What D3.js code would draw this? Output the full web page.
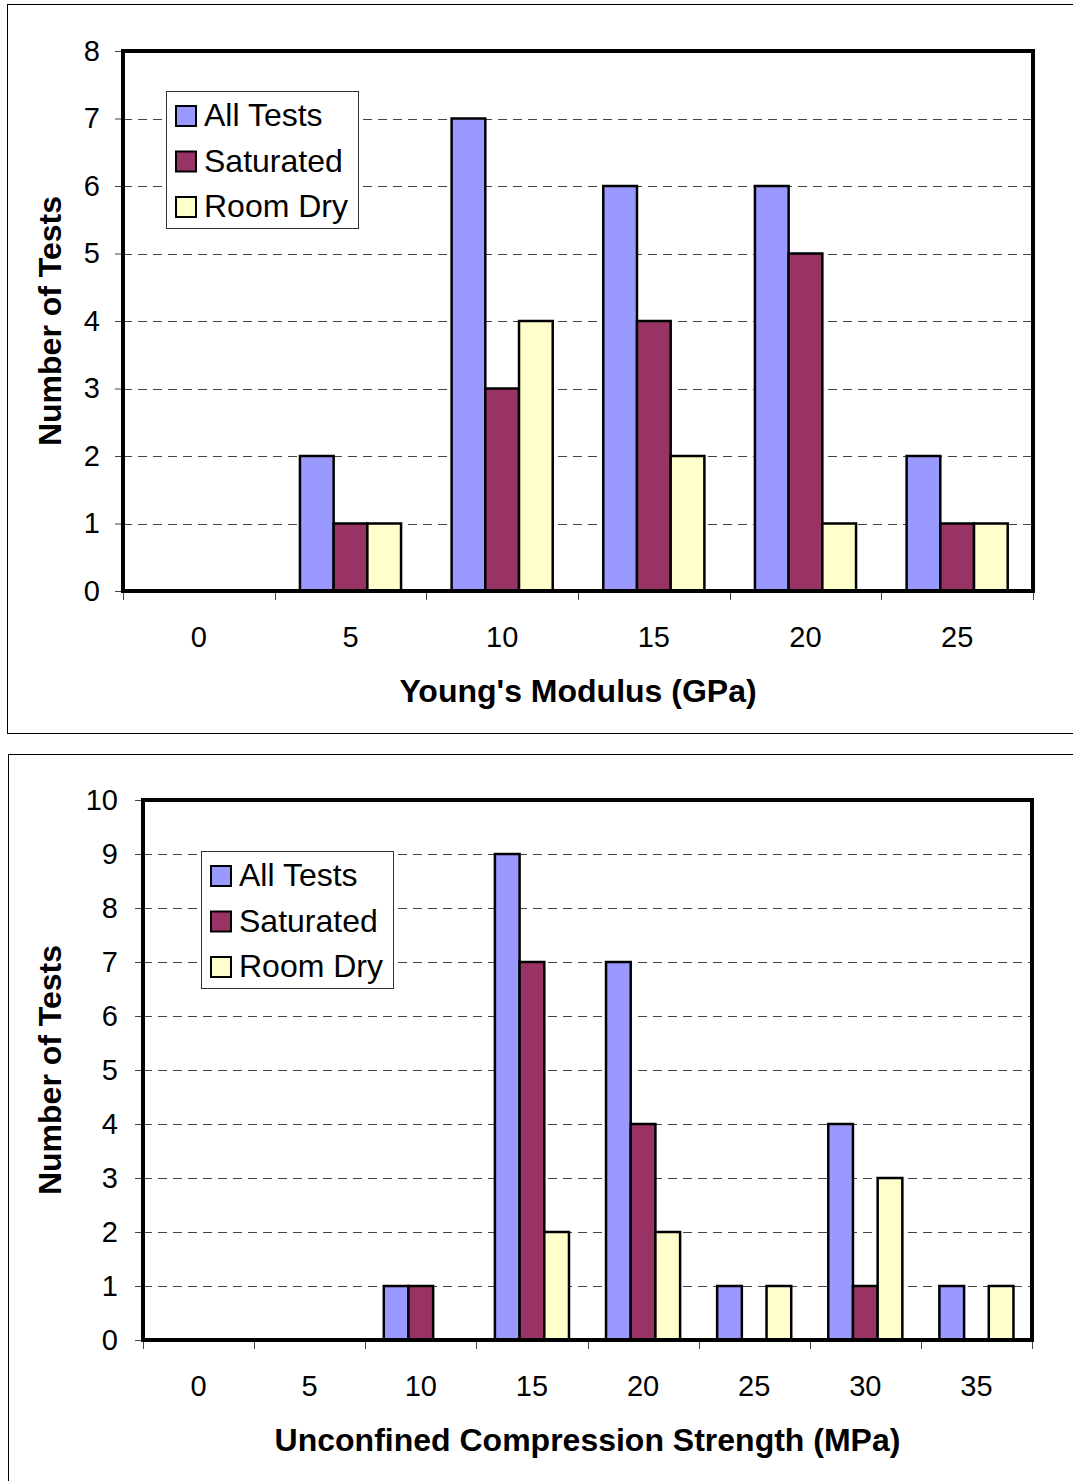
<!DOCTYPE html>
<html>
<head>
<meta charset="utf-8">
<script src="https://cdn.jsdelivr.net/npm/d3@7"></script>
<style>
  body { margin: 0; background: #fff; }
  svg { display: block; font-family: "Liberation Sans", Arial, sans-serif; }
</style>
</head>
<body>
<div id="chart"></div>
<script>
// chart 1 - Young's modulus
var modCats = ["0", "5", "10", "15", "20", "25"];
var modAll = [0, 2, 7, 6, 6, 2];
var modSat = [0, 1, 3, 4, 5, 1];
var modDry = [0, 1, 4, 2, 1, 1];
var modTicks = [0, 1, 2, 3, 4, 5, 6, 7, 8];

// chart 2 - UCS
var ucsCats = ["0", "5", "10", "15", "20", "25", "30", "35"];
var ucsAll = [0, 0, 1, 9, 7, 1, 4, 1];
var ucsSat = [0, 0, 1, 7, 4, 0, 1, 0];
var ucsDry = [0, 0, 0, 2, 2, 1, 3, 1];
var ucsTicks = [0, 1, 2, 3, 4, 5, 6, 7, 8, 9, 10];

var seriesNames = ["All Tests", "Saturated", "Room Dry"];
var colors = ["#9999ff", "#993366", "#ffffcc"];

var svg = d3.select("#chart").append("svg")
  .attr("width", 1073)
  .attr("height", 1481);

function drawChart(opt) {
  var g = svg.append("g");

  // outer chart frame
  g.append("rect")
    .attr("x", opt.frame[0] + 0.5).attr("y", opt.frame[1] + 0.5)
    .attr("width", opt.frame[2]).attr("height", opt.frame[3])
    .attr("fill", "none").attr("stroke", "#000").attr("stroke-width", 1);

  var x = d3.scaleBand()
    .domain(opt.cats)
    .range([opt.left, opt.right]);

  var y = d3.scaleLinear()
    .domain([0, d3.max(opt.ticks)])
    .range([opt.bottom, opt.top]);

  // gridlines
  g.append("g").selectAll("line")
    .data(opt.ticks.slice(1, -1))
    .enter().append("line")
      .attr("x1", opt.left).attr("x2", opt.right)
      .attr("y1", function(d) { return Math.round(y(d)) + 0.5; })
      .attr("y2", function(d) { return Math.round(y(d)) + 0.5; })
      .attr("stroke", "#444").attr("stroke-width", 1)
      .attr("stroke-dasharray", "9,6");

  // y axis
  var yAxis = g.append("g")
    .attr("transform", "translate(" + opt.left + ",0)")
    .call(d3.axisLeft(y).tickValues(opt.ticks).tickSize(8).tickPadding(opt.yPad));
  yAxis.select(".domain").remove();
  yAxis.selectAll(".tick line").attr("stroke", "#444");
  yAxis.selectAll("text").attr("font-size", 29).attr("fill", "#000")
    .attr("font-family", "Liberation Sans, Arial, sans-serif");

  // x axis ticks at band boundaries
  var bounds = opt.cats.map(function(c) { return x(c); }).concat([opt.right]);
  g.append("g").selectAll("line")
    .data(bounds)
    .enter().append("line")
      .attr("x1", function(d) { return Math.round(d) + 0.5; })
      .attr("x2", function(d) { return Math.round(d) + 0.5; })
      .attr("y1", opt.bottom).attr("y2", opt.bottom + 9)
      .attr("stroke", "#444").attr("stroke-width", 1);

  g.append("g").selectAll("text")
    .data(opt.cats)
    .enter().append("text")
      .attr("x", function(d) { return x(d) + x.bandwidth() / 2; })
      .attr("y", opt.bottom + 56)
      .attr("text-anchor", "middle")
      .attr("font-size", 29)
      .text(function(d) { return d; });

  // bars: excel style, gap width 150%
  var bw = x.bandwidth() / 4.5;
  var sub = d3.scaleBand().domain([0, 1, 2]).range([0, 3 * bw]);
  var series = [opt.all, opt.sat, opt.dry];
  series.forEach(function(vals, si) {
    g.append("g").selectAll("rect")
      .data(vals.map(function(v, i) { return {cat: opt.cats[i], v: v}; }).filter(function(d) { return d.v > 0; }))
      .enter().append("rect")
        .attr("x", function(d) { return x(d.cat) + 0.75 * bw + sub(si); })
        .attr("y", function(d) { return y(d.v); })
        .attr("width", sub.bandwidth())
        .attr("height", function(d) { return y(0) - y(d.v); })
        .attr("fill", colors[si])
        .attr("stroke", "#000").attr("stroke-width", 2.5);
  });

  // plot area border
  g.append("rect")
    .attr("x", opt.left).attr("y", opt.top)
    .attr("width", opt.right - opt.left).attr("height", opt.bottom - opt.top)
    .attr("fill", "none").attr("stroke", "#000").attr("stroke-width", 4);

  // legend
  var lg = g.append("g").attr("transform", "translate(" + opt.legend[0] + "," + opt.legend[1] + ")");
  lg.append("rect")
    .attr("x", 0.5).attr("y", 0.5).attr("width", 192).attr("height", 137)
    .attr("fill", "#fff").attr("stroke", "#333").attr("stroke-width", 1);
  seriesNames.forEach(function(name, i) {
    lg.append("rect")
      .attr("x", 10).attr("y", 15 + i * 45.5)
      .attr("width", 20).attr("height", 20)
      .attr("fill", colors[i]).attr("stroke", "#000").attr("stroke-width", 2);
    lg.append("text")
      .attr("x", 38).attr("y", 35 + i * 45.5)
      .attr("font-size", 32)
      .text(name);
  });

  // axis titles
  g.append("text")
    .attr("x", (opt.left + opt.right) / 2)
    .attr("y", opt.bottom + 111)
    .attr("text-anchor", "middle")
    .attr("font-size", 32).attr("font-weight", "bold")
    .text(opt.xTitle);

  g.append("text")
    .attr("transform", "translate(61," + ((opt.top + opt.bottom) / 2) + ") rotate(-90)")
    .attr("text-anchor", "middle")
    .attr("font-size", 32).attr("font-weight", "bold")
    .text("Number of Tests");
}

drawChart({
  frame: [7, 4, 1080, 729],
  cats: modCats, all: modAll, sat: modSat, dry: modDry, ticks: modTicks,
  left: 123, right: 1033, top: 51, bottom: 591, yPad: 15,
  legend: [166, 91],
  xTitle: "Young's Modulus (GPa)"
});

drawChart({
  frame: [8, 754, 1080, 760],
  cats: ucsCats, all: ucsAll, sat: ucsSat, dry: ucsDry, ticks: ucsTicks,
  left: 143, right: 1032, top: 800, bottom: 1340, yPad: 17,
  legend: [201, 851],
  xTitle: "Unconfined Compression Strength (MPa)"
});
</script>
</body>
</html>
